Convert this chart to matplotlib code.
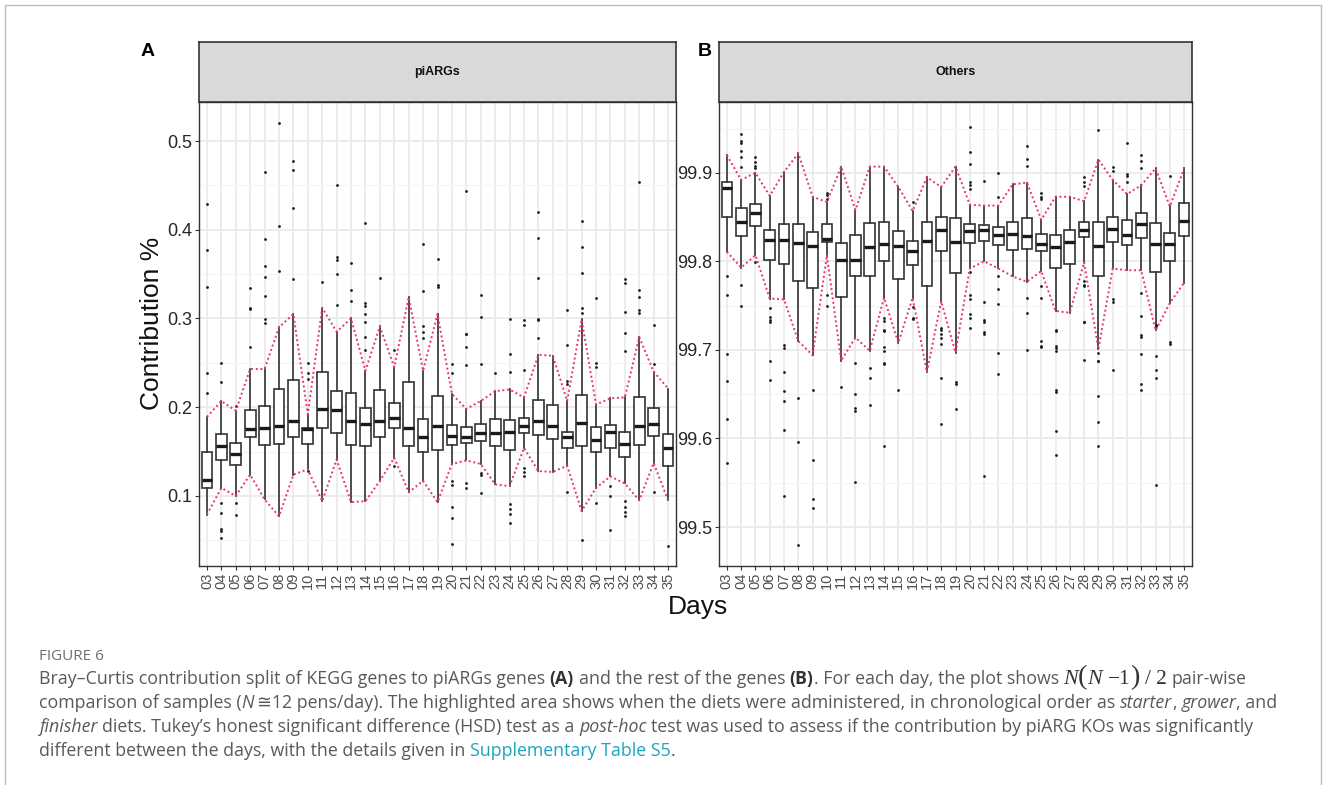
import matplotlib.pyplot as plt
from matplotlib.patches import Rectangle

# ---- data ----
days = ["03", "04", "05", "06", "07", "08", "09", "10", "11", "12", "13", "14", "15", "16", "17",
        "18", "19", "20", "21", "22", "23", "24", "25", "26", "27", "28", "29", "30", "31", "32",
        "33", "34", "35"]

# panel A: piARGs
a_q1 = [0.109, 0.140, 0.135, 0.166, 0.157, 0.159, 0.166, 0.159, 0.176, 0.171, 0.157, 0.156, 0.166,
        0.177, 0.156, 0.150, 0.152, 0.157, 0.160, 0.162, 0.156, 0.152, 0.171, 0.169, 0.164, 0.154,
        0.156, 0.149, 0.154, 0.144, 0.157, 0.167, 0.134]
a_med = [0.118, 0.156, 0.147, 0.175, 0.176, 0.179, 0.184, 0.175, 0.198, 0.197, 0.184, 0.181, 0.184,
         0.188, 0.177, 0.166, 0.179, 0.168, 0.166, 0.171, 0.171, 0.172, 0.179, 0.185, 0.179, 0.166,
         0.182, 0.163, 0.172, 0.158, 0.179, 0.181, 0.154]
a_q3 = [0.150, 0.170, 0.160, 0.197, 0.201, 0.220, 0.231, 0.177, 0.240, 0.218, 0.216, 0.199, 0.219,
        0.205, 0.228, 0.187, 0.213, 0.180, 0.178, 0.181, 0.187, 0.186, 0.188, 0.208, 0.203, 0.172,
        0.214, 0.178, 0.180, 0.172, 0.212, 0.199, 0.170]
a_lo = [0.079, 0.109, 0.100, 0.124, 0.096, 0.077, 0.124, 0.130, 0.094, 0.141, 0.093, 0.094, 0.117,
        0.143, 0.104, 0.117, 0.093, 0.136, 0.140, 0.136, 0.113, 0.111, 0.154, 0.128, 0.127, 0.134,
        0.083, 0.109, 0.122, 0.114, 0.095, 0.137, 0.095]
a_hi = [0.189, 0.207, 0.196, 0.243, 0.243, 0.290, 0.305, 0.192, 0.312, 0.285, 0.300, 0.241, 0.291,
        0.245, 0.324, 0.241, 0.305, 0.215, 0.198, 0.207, 0.218, 0.220, 0.211, 0.259, 0.258, 0.207,
        0.299, 0.203, 0.210, 0.211, 0.279, 0.240, 0.221]
a_out = [
    [0.429, 0.377, 0.335, 0.238, 0.216],
    [0.250, 0.228, 0.092, 0.081, 0.063, 0.060, 0.052],
    [0.201, 0.092, 0.079],
    [0.334, 0.312, 0.311, 0.268],
    [0.465, 0.390, 0.359, 0.347, 0.325, 0.299, 0.295],
    [0.520, 0.404, 0.354],
    [0.478, 0.467, 0.425, 0.344],
    [0.250, 0.238, 0.232, 0.128],
    [0.341],
    [0.450, 0.369, 0.366, 0.350, 0.315],
    [0.3625, 0.332, 0.320],
    [0.408, 0.317, 0.314, 0.305, 0.296, 0.279, 0.264],
    [0.346],
    [0.265, 0.134],
    [],
    [0.384, 0.331, 0.292, 0.285, 0.278],
    [0.367, 0.338, 0.336],
    [0.249, 0.239, 0.117, 0.112, 0.088, 0.075, 0.046],
    [0.4435, 0.283, 0.282, 0.268, 0.247, 0.114, 0.109],
    [0.326, 0.302, 0.249, 0.126, 0.124, 0.103],
    [0.238],
    [0.299, 0.260, 0.240, 0.091, 0.085, 0.080, 0.070],
    [0.298, 0.293, 0.242, 0.132, 0.127, 0.123],
    [0.4205, 0.391, 0.346, 0.299, 0.298, 0.278],
    [],
    [0.310, 0.270, 0.229, 0.226, 0.104],
    [0.410, 0.381, 0.351, 0.312, 0.306, 0.050],
    [0.323, 0.250, 0.245, 0.092],
    [0.111, 0.100, 0.062],
    [0.345, 0.3395, 0.307, 0.284, 0.263, 0.094, 0.088, 0.082, 0.077],
    [0.454, 0.332, 0.324, 0.309, 0.306],
    [0.293, 0.249, 0.104],
    [0.044],
]

# panel B: others
b_q1 = [99.850, 99.829, 99.840, 99.802, 99.797, 99.778, 99.770, 99.822, 99.760, 99.783, 99.784,
        99.801, 99.780, 99.796, 99.772, 99.812, 99.787, 99.821, 99.823, 99.819, 99.813, 99.814,
        99.812, 99.793, 99.797, 99.828, 99.784, 99.822, 99.819, 99.826, 99.788, 99.801, 99.829]
b_med = [99.883, 99.844, 99.855, 99.824, 99.824, 99.821, 99.817, 99.825, 99.802, 99.802, 99.816,
         99.820, 99.817, 99.812, 99.823, 99.836, 99.822, 99.834, 99.836, 99.830, 99.831, 99.829,
         99.820, 99.816, 99.822, 99.836, 99.817, 99.837, 99.830, 99.842, 99.820, 99.820, 99.846]
b_q3 = [99.890, 99.860, 99.865, 99.835, 99.842, 99.842, 99.833, 99.842, 99.821, 99.830, 99.843,
        99.844, 99.834, 99.823, 99.845, 99.850, 99.849, 99.842, 99.841, 99.839, 99.845, 99.849,
        99.831, 99.830, 99.836, 99.845, 99.845, 99.850, 99.847, 99.855, 99.843, 99.832, 99.866]
b_lo = [99.811, 99.793, 99.807, 99.758, 99.757, 99.710, 99.694, 99.807, 99.688, 99.714, 99.699,
        99.759, 99.708, 99.759, 99.675, 99.755, 99.697, 99.792, 99.800, 99.792, 99.783, 99.777,
        99.789, 99.744, 99.742, 99.799, 99.701, 99.792, 99.790, 99.790, 99.722, 99.753, 99.776]
b_hi = [99.920, 99.892, 99.900, 99.874, 99.901, 99.922, 99.873, 99.867, 99.907, 99.858, 99.907,
        99.907, 99.884, 99.857, 99.895, 99.884, 99.907, 99.864, 99.863, 99.863, 99.887, 99.889,
        99.847, 99.873, 99.873, 99.868, 99.915, 99.892, 99.876, 99.886, 99.905, 99.862, 99.905]
b_out = [
    [99.784, 99.762, 99.695, 99.665, 99.622, 99.572],
    [99.944, 99.936, 99.934, 99.925, 99.918, 99.907, 99.773, 99.750],
    [99.918, 99.912, 99.908, 99.905, 99.799],
    [99.747, 99.737, 99.734, 99.732, 99.687, 99.666],
    [99.706, 99.702, 99.675, 99.654, 99.642, 99.610, 99.535],
    [99.646, 99.596, 99.480],
    [99.655, 99.576, 99.532, 99.522],
    [99.877, 99.875, 99.871, 99.762, 99.750],
    [99.658],
    [99.685, 99.650, 99.634, 99.631, 99.551],
    [99.680, 99.668, 99.638],
    [99.736, 99.733, 99.723, 99.721, 99.703, 99.699, 99.685, 99.684, 99.591],
    [99.655],
    [99.867, 99.748, 99.736, 99.735],
    [],
    [99.725, 99.722, 99.718, 99.714, 99.707, 99.668, 99.616],
    [99.664, 99.661, 99.633],
    [99.952, 99.924, 99.910, 99.890, 99.886, 99.882, 99.788, 99.762, 99.757, 99.741, 99.736, 99.725],
    [99.891, 99.754, 99.734, 99.732, 99.720, 99.718, 99.558],
    [99.900, 99.873, 99.783, 99.769, 99.752, 99.697, 99.673],
    [],
    [99.930, 99.916, 99.908, 99.759, 99.742, 99.700],
    [99.877, 99.873, 99.870, 99.772, 99.759, 99.710, 99.705, 99.703],
    [99.723, 99.721, 99.705, 99.702, 99.699, 99.655, 99.652, 99.609, 99.581],
    [],
    [99.895, 99.890, 99.885, 99.778, 99.773, 99.772, 99.732, 99.731, 99.689],
    [99.948, 99.696, 99.688, 99.687, 99.648, 99.619, 99.592],
    [99.907, 99.902, 99.757, 99.754, 99.677],
    [99.934, 99.899, 99.896, 99.890],
    [99.920, 99.913, 99.905, 99.764, 99.738, 99.717, 99.715, 99.695, 99.662, 99.655],
    [99.728, 99.727, 99.693, 99.677, 99.668, 99.547],
    [99.896, 99.709, 99.707],
    [],
]

a_yticks = [0.1, 0.2, 0.3, 0.4, 0.5]
b_yticks = [99.5, 99.6, 99.7, 99.8, 99.9]

# ---- layout helpers (pixel coordinates of the 1328x785 figure) ----
W, H = 1328, 785
fig = plt.figure(figsize=(W / 100, H / 100), dpi=100)


def box_px(left, top, right, bottom):
    return [left / W, 1 - bottom / H, (right - left) / W, (bottom - top) / H]


RED = "#E8336D"
DARK = "#333333"


def panel(left, right, q1, med, q3, lo, hi, out, ylim, yticks, strip_label):
    ax = fig.add_axes(box_px(left, 102, right, 566))
    pos = list(range(len(days)))
    stats = [dict(q1=a, med=m, q3=b, whislo=l, whishi=h, fliers=f)
             for a, m, b, l, h, f in zip(q1, med, q3, lo, hi, out)]
    ax.bxp(stats, positions=pos, widths=0.75, showcaps=False, patch_artist=True,
           boxprops=dict(facecolor="white", edgecolor=DARK, linewidth=1.2),
           whiskerprops=dict(color=DARK, linewidth=1.2),
           medianprops=dict(color="#1a1a1a", linewidth=2.4),
           flierprops=dict(marker="o", markersize=2.0, markerfacecolor="#1a1a1a",
                           markeredgecolor="none"))
    ax.plot(pos, hi, color=RED, lw=1.4, dashes=(1, 1.4), zorder=5)
    ax.plot(pos, lo, color=RED, lw=1.4, dashes=(1, 1.4), zorder=5)

    ax.set_xlim(-0.55, len(days) - 0.45)
    ax.set_ylim(*ylim)
    ax.set_xticks(pos)
    ax.set_xticklabels(days, rotation=90, fontsize=10.5, color="#4D4D4D",
                       family="Liberation Sans")
    ax.set_yticks(yticks)
    ax.set_yticklabels([f"{v:g}" for v in yticks], fontsize=13, color="#262626",
                       family="Liberation Sans")
    minor = [v + 0.05 for v in yticks] + [yticks[0] - 0.05]
    ax.set_yticks([v for v in minor if ylim[0] < v < ylim[1]], minor=True)
    ax.tick_params(which="major", length=3, width=0.8, color=DARK, pad=2)
    ax.tick_params(which="minor", length=0)
    ax.set_axisbelow(True)
    ax.grid(which="major", color="#EBEBEB", lw=1.3)
    ax.grid(which="minor", axis="y", color="#F3F3F3", lw=0.8)
    for s in ax.spines.values():
        s.set_color(DARK)
        s.set_linewidth(1.0)

    st = fig.add_axes(box_px(left, 42, right, 102))
    st.set_facecolor("#D9D9D9")
    st.set_xticks([])
    st.set_yticks([])
    for s in st.spines.values():
        s.set_color(DARK)
        s.set_linewidth(1.2)
    st.text(0.5, 0.5, strip_label, ha="center", va="center", fontsize=9,
            fontweight="bold", family="Liberation Sans", color="#111111",
            transform=st.transAxes)
    return ax


panel(199, 676, a_q1, a_med, a_q3, a_lo, a_hi, a_out, (0.021, 0.544), a_yticks, "piARGs")
panel(719, 1192, b_q1, b_med, b_q3, b_lo, b_hi, b_out, (99.456, 99.98), b_yticks, "Others")

fig.text(152 / W, 1 - 323 / H, "Contribution %", rotation=90, ha="center", va="center",
         fontsize=19, family="Liberation Sans", color="#111111")
fig.text(698 / W, 1 - 595 / H, "Days", ha="center", va="top", fontsize=19,
         family="Liberation Sans", color="#111111")
fig.text(148 / W, 1 - 52 / H, "A", ha="center", va="center", fontsize=14,
         fontweight="bold", family="Liberation Sans")
fig.text(705 / W, 1 - 52 / H, "B", ha="center", va="center", fontsize=14,
         fontweight="bold", family="Liberation Sans")

# outer frame of the figure page
fig.patches.append(Rectangle((5 / W, -0.02), (1321 - 5) / W, 1.02 - 5 / H,
                             transform=fig.transFigure, fill=False, edgecolor="#BDBDBD",
                             lw=1.0))

# ---- caption ----
GREY = "#595959"
CAP_FONT = ["Open Sans", "DejaVu Sans"]
SERIF = ["Liberation Serif", "DejaVu Serif"]
styles = {
    "n": dict(family=CAP_FONT, color=GREY),
    "i": dict(family=CAP_FONT, color=GREY, style="italic"),
    "b": dict(family=CAP_FONT, color="#333333", weight="bold"),
    "l": dict(family=CAP_FONT, color="#1CA4BF"),
    "mi": dict(family=SERIF, color="#333333", style="italic", size_scale=1.25),
    "ms": dict(family=SERIF, color="#333333", size_scale=1.2),
    "mp": dict(family=SERIF, color="#333333", size_scale=1.6),
}

cap_lines = [
    [("Bray\u2013Curtis contribution split of KEGG genes to piARGs genes ", "n"), ("(A)", "b"),
     (" and the rest of the genes ", "n"), ("(B)", "b"), (". For each day, the plot shows ", "n"),
     ("N", "mi"), ("(", "mp"), ("N", "mi"), (" \u22121", "ms"), (")", "mp"), (" / 2", "ms"),
     (" pair-wise", "n")],
    [("comparison of samples (", "n"), ("N", "i"), ("\u2009\u224512 pens/day). The highlighted area "
     "shows when the diets were administered, in chronological order as ", "n"),
     ("starter", "i"), (", ", "n"), ("grower", "i"), (", and", "n")],
    [("finisher", "i"), (" diets. Tukey\u2019s honest significant difference (HSD) test as a ", "n"),
     ("post-hoc", "i"), (" test was used to assess if the contribution by piARG KOs was "
     "significantly", "n")],
    [("different between the days, with the details given in ", "n"),
     ("Supplementary Table S5", "l"), (".", "n")],
]
cap_ends = [1251, 1289, 1271, 672]   # right end of each caption line in the reference
CAP_X = 39

renderer = fig.canvas.get_renderer()


def measure(s, size, st):
    kw = {k: v for k, v in st.items() if k != "size_scale"}
    sz = size * st.get("size_scale", 1.0)
    t = fig.text(0, 0, s, fontsize=sz, **kw)
    w = t.get_window_extent(renderer).width if s else 0.0
    t.remove()
    return w


def run_width(s, size, st):
    core = s.strip(" ")
    n_lead = len(s) - len(s.lstrip(" "))
    n_trail = len(s) - len(s.rstrip(" "))
    sp = measure("n n", size, st) - measure("nn", size, st)
    return n_lead * sp, measure(core, size, st), n_trail * sp, core


def draw_line(runs, x0, y, size, draw=True):
    x = x0
    for s, key in runs:
        st = styles[key]
        lead, w, trail, core = run_width(s, size, st)
        x += lead
        if draw and core:
            kw = {k: v for k, v in st.items() if k != "size_scale"}
            fig.text(x / W, 1 - y / H, core, fontsize=size * st.get("size_scale", 1.0),
                     va="baseline", ha="left", **kw)
        x += w + trail
    return x - x0


# size the caption so that no line runs past its end in the reference
base = 12.0
cap_size = min(base * (end - CAP_X) / draw_line(runs, 0, 0, base, draw=False)
               for runs, end in zip(cap_lines, cap_ends))

fig.text(CAP_X / W, 1 - 660 / H, "FIGURE 6", fontsize=11, family=CAP_FONT, color="#6E6E6E",
         va="baseline")
for k, runs in enumerate(cap_lines):
    draw_line(runs, CAP_X, 684 + 24 * k, cap_size)

fig.savefig("out.png", dpi=100)
